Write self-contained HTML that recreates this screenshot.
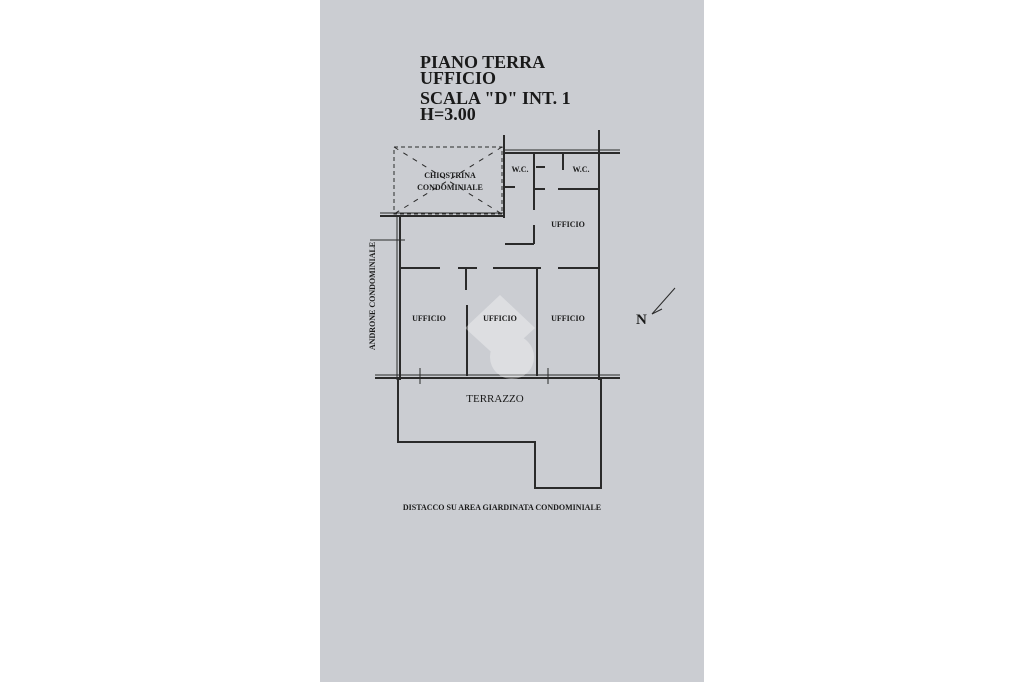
<!DOCTYPE html>
<html><head><meta charset="utf-8"><style>
html,body{margin:0;padding:0;background:#fff;width:1024px;height:682px;overflow:hidden}
svg{display:block}
text{font-family:"Liberation Serif",serif;fill:#1a1a1a}
</style></head><body>
<svg width="1024" height="682" viewBox="0 0 1024 682">
<rect x="0" y="0" width="1024" height="682" fill="#ffffff"/>
<rect x="320" y="0" width="384" height="682" fill="#cbcdd2"/>
<g font-weight="bold" font-size="18">
<text x="420" y="68">PIANO TERRA</text>
<text x="420" y="84">UFFICIO</text>
<text x="420" y="104">SCALA "D" INT. 1</text>
<text x="420" y="120">H=3.00</text>
</g>
<g stroke="#2a2a2a" fill="none" stroke-width="2">
<rect x="394" y="147" width="108" height="67" stroke-dasharray="4,3" stroke-width="1"/>
<line x1="394" y1="147" x2="502" y2="214" stroke-dasharray="5,6" stroke-width="1"/>
<line x1="502" y1="147" x2="394" y2="214" stroke-dasharray="5,6" stroke-width="1"/>
<line x1="599" y1="130" x2="599" y2="380"/>
<line x1="505" y1="153" x2="620" y2="153"/>
<line x1="505" y1="150" x2="620" y2="150" stroke-width="1"/>
<line x1="504" y1="135" x2="504" y2="218"/>
<line x1="380" y1="216" x2="504" y2="216"/>
<line x1="380" y1="213" x2="504" y2="213" stroke-width="1"/>
<line x1="400" y1="216" x2="400" y2="380"/>
<line x1="397" y1="216" x2="397" y2="380" stroke-width="1"/>
<line x1="375" y1="378" x2="620" y2="378"/>
<line x1="375" y1="375" x2="620" y2="375" stroke-width="1"/>
<line x1="534" y1="152" x2="534" y2="210"/>
<line x1="563" y1="152" x2="563" y2="170"/>
<line x1="558" y1="189" x2="599" y2="189"/>
<line x1="505" y1="187" x2="515" y2="187"/>
<line x1="535" y1="189" x2="545" y2="189"/>
<line x1="536" y1="167" x2="545" y2="167"/>
<line x1="534" y1="225" x2="534" y2="244"/>
<line x1="505" y1="244" x2="534" y2="244"/>
<line x1="400" y1="268" x2="440" y2="268"/>
<line x1="458" y1="268" x2="477" y2="268"/>
<line x1="493" y1="268" x2="541" y2="268"/>
<line x1="558" y1="268" x2="599" y2="268"/>
<line x1="466" y1="268" x2="466" y2="290"/>
<line x1="467" y1="305" x2="467" y2="376"/>
<line x1="537" y1="268" x2="537" y2="376"/>
<polyline points="398,378 398,442 535,442 535,488 601,488 601,378"/>
<line x1="652" y1="314" x2="675" y2="288" stroke-width="1"/>
<line x1="652" y1="314" x2="662" y2="309" stroke-width="1"/>
<line x1="370" y1="240" x2="405" y2="240" stroke-width="1"/>
<line x1="420" y1="368" x2="420" y2="384" stroke-width="1"/>
<line x1="548" y1="368" x2="548" y2="384" stroke-width="1"/>
</g>
<g opacity="0.35" fill="#fff">
<polygon points="500,295 465,328 500,360 535,328"/>
<circle cx="512" cy="357" r="22"/>
</g>
<g font-size="8" text-anchor="middle" font-weight="bold">
<text x="450" y="178">CHIOSTRINA</text>
<text x="450" y="190">CONDOMINIALE</text>
<text x="520" y="172">W.C.</text>
<text x="581" y="172">W.C.</text>
<text x="568" y="227">UFFICIO</text>
<text x="429" y="321">UFFICIO</text>
<text x="500" y="321">UFFICIO</text>
<text x="568" y="321">UFFICIO</text>
<text x="502" y="510">DISTACCO SU AREA GIARDINATA CONDOMINIALE</text>
<text transform="translate(375,296) rotate(-90)">ANDRONE CONDOMINIALE</text>
</g>
<text x="495" y="402" font-size="11" text-anchor="middle" font-family="Liberation Sans,sans-serif">TERRAZZO</text>
<text x="636" y="324" font-size="15" font-weight="bold">N</text>
</svg>
</body></html>
